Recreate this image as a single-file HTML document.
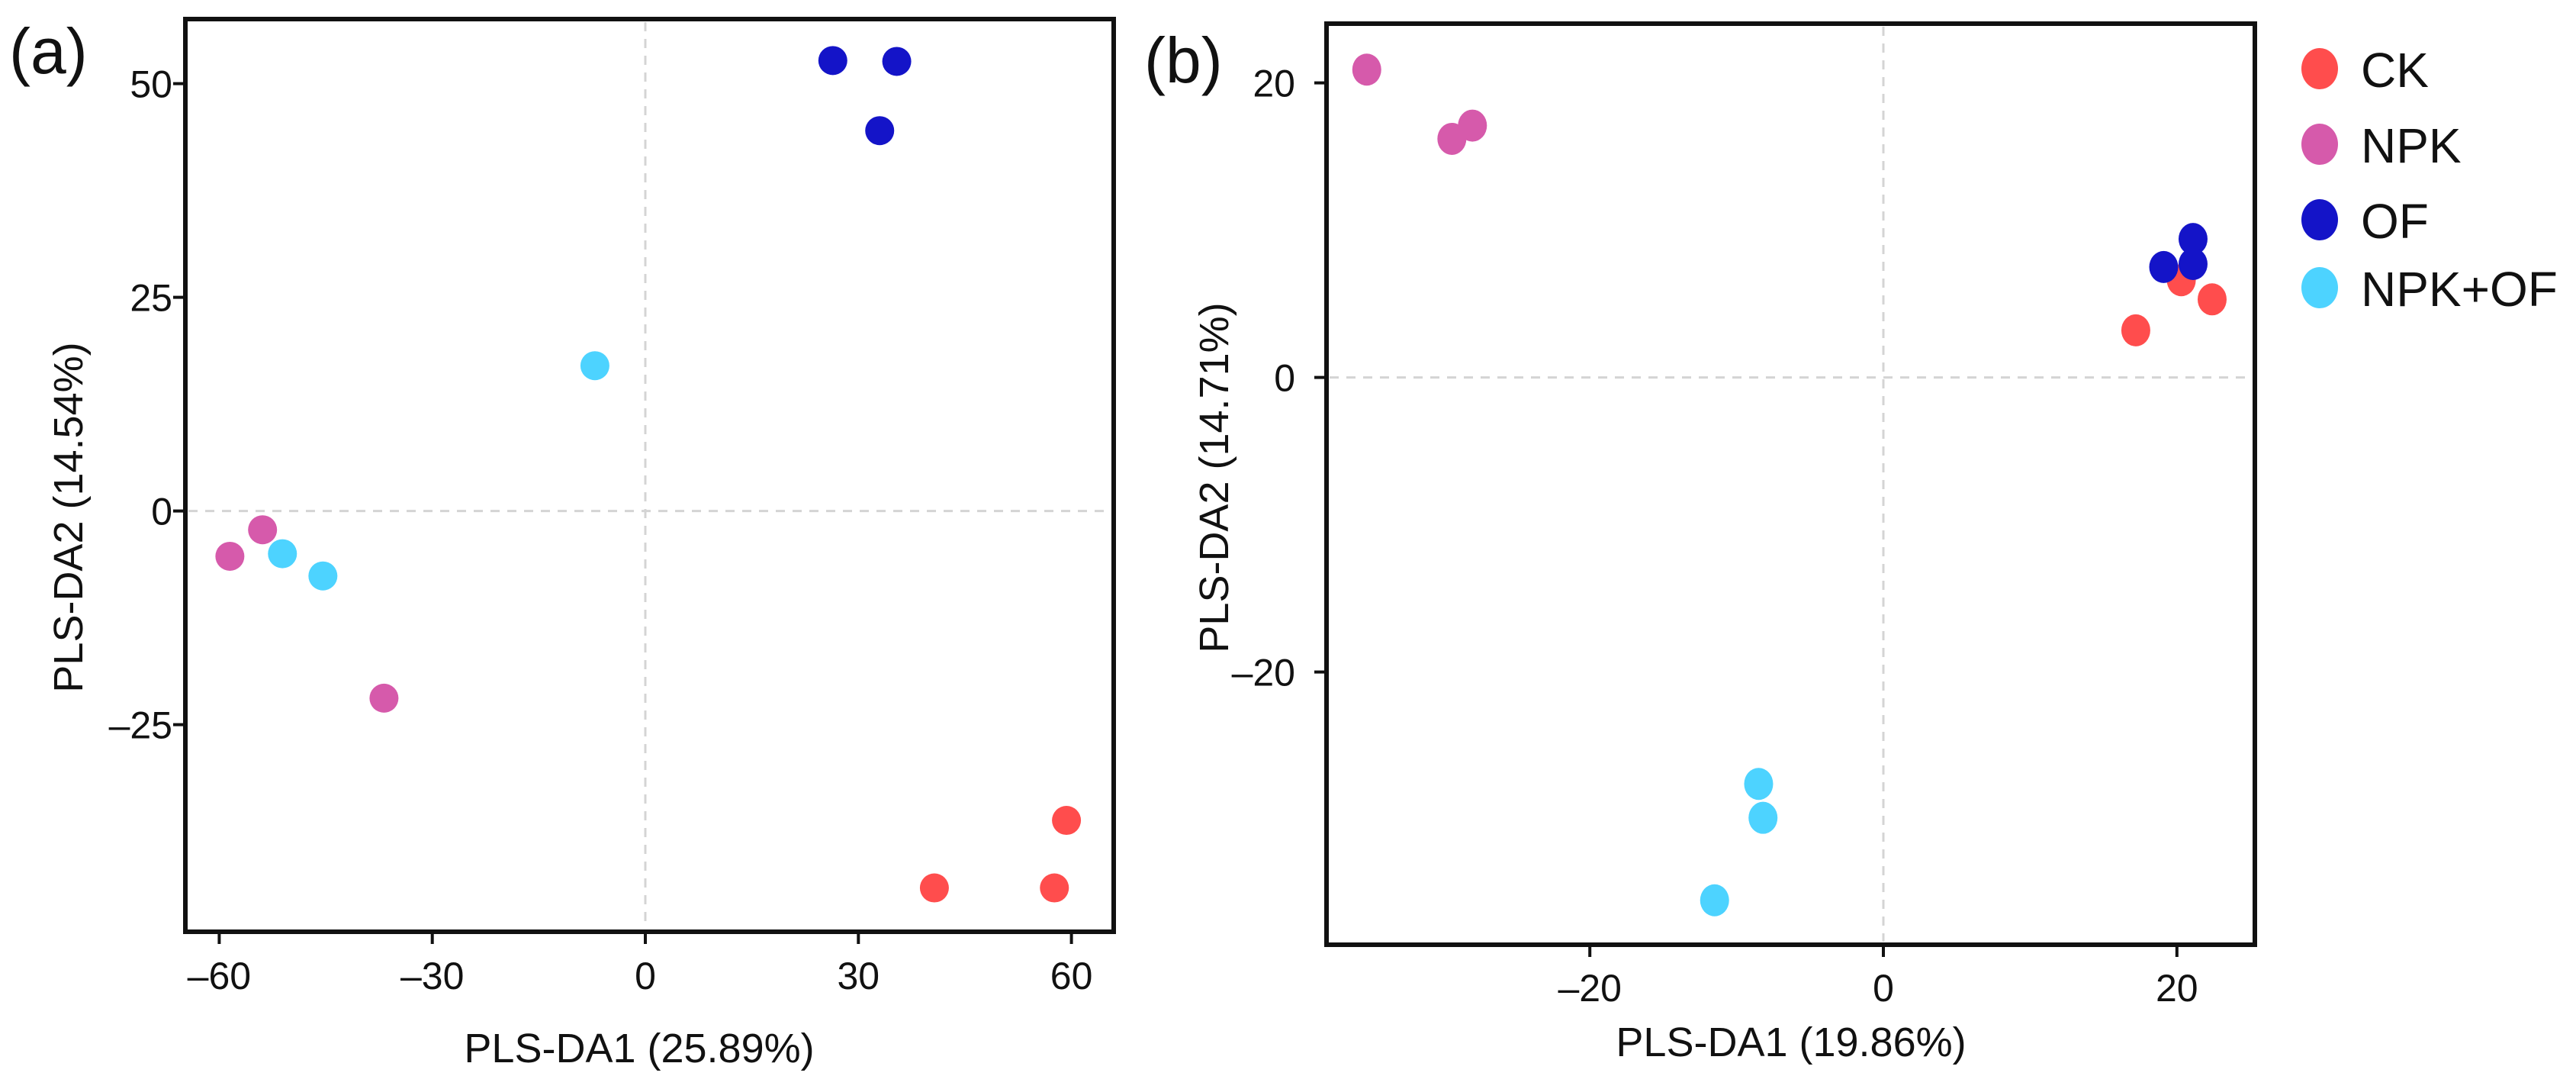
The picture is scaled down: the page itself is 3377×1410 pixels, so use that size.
<!DOCTYPE html>
<html><head><meta charset="utf-8"><style>
html,body{margin:0;padding:0;background:#fff;}
svg{display:block;font-family:"Liberation Sans",Arial,sans-serif;}
</style></head><body>
<svg id="fig" width="3377" height="1410" viewBox="0 0 3377 1410"></svg>
<script>
const groups = ["CK","NPK","OF","NPK+OF"];
const colors = ["#ff4d4d","#d65aab","#1414c8","#4dd3ff"];
// Panel (a) data
const aGroupIdx = [0,0,0,1,1,1,2,2,2,3,3,3];
const aX = [40.7,57.6,59.3,-58.5,-53.9,-36.8,26.4,35.4,33.0,-7.1,-51.1,-45.4];
const aY = [-44.1,-44.1,-36.2,-5.3,-2.2,-21.9,52.7,52.6,44.5,17.0,-5.0,-7.6];
const aXTicks = [-60,-30,0,30,60];
const aYTicks = [-25,0,25,50];
// Panel (b) data
const bGroupIdx = [0,0,0,1,1,1,2,2,2,3,3,3];
const bX = [17.2,20.3,22.4,-35.2,-29.4,-28.0,19.1,21.1,21.1,-8.5,-8.2,-11.5];
const bY = [3.2,6.6,5.3,20.9,16.2,17.1,7.5,9.4,7.7,-27.6,-29.9,-35.5];
const bXTicks = [-20,0,20];
const bYTicks = [-20,0,20];

const NS="http://www.w3.org/2000/svg";
const svg=document.getElementById('fig');
function el(tag,attrs,parent){const e=document.createElementNS(NS,tag);for(const k in attrs)e.setAttribute(k,attrs[k]);(parent||svg).appendChild(e);return e;}
function txt(s,attrs,parent){const e=el('text',attrs,parent);e.textContent=s;return e;}

function panel(cfg){
  const g=el('g',{});
  
  
  const sx=v=>cfg.x0+(v-cfg.xv0)*cfg.xs;
  const sy=v=>cfg.y0-(v-cfg.yv0)*cfg.ys;
  // zero lines
  const zx=el('line',{x1:sx(0),x2:sx(0),y1:cfg.top+4,y2:cfg.bottom-4,stroke:'#d4d4d4','stroke-width':3,'stroke-dasharray':'12 10'},g);
  
  
  const zy=el('line',{x1:cfg.left+4,x2:cfg.right-4,y1:sy(0),y2:sy(0),stroke:'#d4d4d4','stroke-width':3,'stroke-dasharray':'12 10'},g);
  
  
  // points
  for(let i=0;i<cfg.X.length;i++){
    const c=el('ellipse',{cx:sx(cfg.X[i]),cy:sy(cfg.Y[i]),rx:cfg.rx,ry:cfg.ry,fill:colors[cfg.G[i]]},g);
    
    
  }
  // frame
  const fr=el('rect',{x:cfg.left,y:cfg.top,width:cfg.right-cfg.left,height:cfg.bottom-cfg.top,fill:'none',stroke:'#111','stroke-width':6},g);
  
  
  // ticks
  cfg.xt.forEach(t=>{
    const l=el('line',{x1:sx(t),x2:sx(t),y1:cfg.bottom,y2:cfg.bottom+16,stroke:'#111','stroke-width':4},g);
    
    
    const tl=txt(t<0?'\u2013'+(-t):String(t),{x:sx(t),y:cfg.xLabY,'font-size':50,'text-anchor':'middle',fill:'#111'},g);
    
    
  });
  cfg.yt.forEach(t=>{
    const l=el('line',{x1:cfg.left-16,x2:cfg.left,y1:sy(t),y2:sy(t),stroke:'#111','stroke-width':4},g);
    
    
    const tl=txt(t<0?'\u2013'+(-t):String(t),{x:cfg.yLabX,y:sy(t)+18,'font-size':50,'text-anchor':'end',fill:'#111'},g);
    
    
  });
  const xt=txt(cfg.xTitle,{x:cfg.xTitleX,y:cfg.xTitleY,'font-size':54,'text-anchor':'middle',fill:'#111'},g);
  
  
  const yt=txt(cfg.yTitle,{x:0,y:0,'font-size':54,'text-anchor':'middle',fill:'#111',transform:`translate(${cfg.yTitleX},${cfg.yTitleY}) rotate(-90)`},g);
  
  
  const pl=txt(cfg.label,{x:cfg.labelX,y:cfg.labelY,'font-size':84,fill:'#111'},g);
  
  
}

panel({name:'panel-a',X:aX,Y:aY,G:aGroupIdx,xt:aXTicks,yt:aYTicks,
  left:243,right:1460,top:25,bottom:1221,
  x0:846,xv0:0,xs:9.31,y0:669.6,yv0:0,ys:11.2,rx:19,ry:19,
  xLabY:1296,yLabX:226,xTitle:'PLS-DA1 (25.89%)',xTitleX:838,xTitleY:1392,
  yTitle:'PLS-DA2 (14.54%)',yTitleX:108,yTitleY:678,label:'(a)',labelX:12,labelY:96});

panel({name:'panel-b',X:bX,Y:bY,G:bGroupIdx,xt:bXTicks,yt:bYTicks,
  left:1739,right:2956,top:31,bottom:1238,
  x0:2469,xv0:0,xs:19.24,y0:494.6,yv0:0,ys:19.3,rx:19,ry:21,
  xLabY:1312,yLabX:1698,xTitle:'PLS-DA1 (19.86%)',xTitleX:2348,xTitleY:1384,
  yTitle:'PLS-DA2 (14.71%)',yTitleX:1610,yTitleY:626,label:'(b)',labelX:1500,labelY:108});

// legend
const leg=el('g',{});


const legY=[90,189,288,377];
groups.forEach((gname,i)=>{
  const e=el('g',{},leg);
  
  
  const d=el('ellipse',{cx:3041,cy:legY[i],rx:24,ry:27,fill:colors[i]},e);
  
  
  const t=txt(gname,{x:3095,y:legY[i]+24,'font-size':64,fill:'#111'},e);
  
  
});
</script>
</body></html>
